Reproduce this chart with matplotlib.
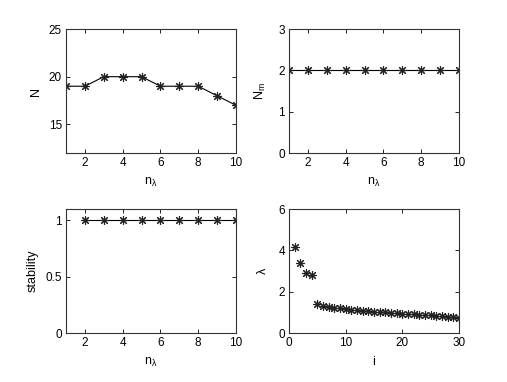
import matplotlib
matplotlib.use("Agg")
import matplotlib.pyplot as plt

plt.rcParams['font.family'] = ['Liberation Sans', 'DejaVu Sans']
plt.rcParams['mathtext.fontset'] = 'custom'
plt.rcParams['mathtext.rm'] = 'Liberation Sans'
plt.rcParams['mathtext.it'] = 'Liberation Sans'

n_lambda = [1, 2, 3, 4, 5, 6, 7, 8, 9, 10]
N_vals = [19, 19, 20, 20, 20, 19, 19, 19, 18, 17]
Nm_vals = [2, 2, 2, 2, 2, 2, 2, 2, 2, 2]
stab_x = [2, 3, 4, 5, 6, 7, 8, 9, 10]
stab_vals = [1, 1, 1, 1, 1, 1, 1, 1, 1]
i_vals = list(range(1, 31))
lam_vals = [4.18, 3.38, 2.9, 2.83, 1.40, 1.32, 1.27, 1.23, 1.19, 1.16,
            1.13, 1.10, 1.08, 1.06, 1.04, 1.02, 1.00, 0.98, 0.96, 0.94,
            0.92, 0.90, 0.89, 0.87, 0.85, 0.83, 0.81, 0.79, 0.77, 0.75]

fig = plt.figure(figsize=(5.07, 3.82), dpi=100)
W, H = 507, 382

def mkax(l, r, t, b):
    return fig.add_axes([l / W, 1 - b / H, (r - l) / W, (b - t) / H])

ax1 = mkax(66, 236, 29, 153)
ax2 = mkax(289, 459, 29, 153)
ax3 = mkax(66, 236, 209, 333)
ax4 = mkax(289, 459, 209, 333)

fs = 8
mk = dict(marker=(8, 2, 0), markersize=6.5, color='black', markeredgewidth=0.8,
          markeredgecolor='#222222')

ax1.plot(n_lambda, N_vals, linewidth=0.8, **mk)
ax1.set_xlim(1, 10); ax1.set_ylim(12, 25)
ax1.set_xticks([2, 4, 6, 8, 10]); ax1.set_yticks([15, 20, 25])
ax1.set_ylabel('N', fontsize=fs + 1, labelpad=5)

ax2.plot(n_lambda, Nm_vals, linewidth=0.8, **mk)
ax2.set_xlim(1, 10); ax2.set_ylim(0, 3)
ax2.set_xticks([2, 4, 6, 8, 10]); ax2.set_yticks([0, 1, 2, 3])
ax2.set_ylabel('N$_\\mathregular{m}$', fontsize=fs + 1, labelpad=7)

ax3.plot(stab_x, stab_vals, linewidth=0.8, **mk)
ax3.set_xlim(1, 10); ax3.set_ylim(0, 1.1)
ax3.set_xticks([2, 4, 6, 8, 10]); ax3.set_yticks([0, 0.5, 1])
ax3.set_yticklabels(['0', '0.5', '1'])
ax3.set_ylabel('stability', fontsize=fs + 1, labelpad=5)

ax4.plot(i_vals, lam_vals, linestyle='none', **mk)
ax4.set_xlim(0, 30); ax4.set_ylim(0, 6)
ax4.set_xticks([0, 10, 20, 30]); ax4.set_yticks([0, 2, 4, 6])
ax4.set_ylabel('λ', fontsize=fs + 1, labelpad=7)
ax4.set_xlabel('i', fontsize=fs + 1, labelpad=5)

for ax in (ax1, ax2, ax3):
    ax.set_xlabel('n$_\\mathregular{λ}$', fontsize=fs + 1, labelpad=5)

for ax in (ax1, ax2, ax3, ax4):
    ax.tick_params(direction='in', top=True, right=True, labelsize=fs + 0.5,
                   length=3, width=0.6, pad=3)
    for s in ax.spines.values():
        s.set_linewidth(0.8)
        s.set_color('#333333')

fig.savefig('out.png', dpi=100)
